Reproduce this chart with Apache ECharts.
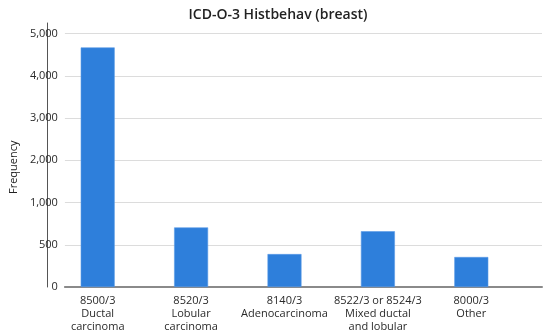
<!DOCTYPE html>
<html>
<head>
<meta charset="utf-8">
<script src="https://cdn.jsdelivr.net/npm/echarts@6/dist/echarts.min.js"></script>
<style>html,body{margin:0;padding:0;background:#fff;}#c{width:550px;height:335px;}</style>
</head>
<body>
<div id="c"></div>
<script>
var categories = ['8500/3\nDuctal\ncarcinoma', '8520/3\nLobular\ncarcinoma', '8140/3\nAdenocarcinoma', '8522/3 or 8524/3\nMixed ductal\nand lobular', '8000/3\nOther'];
var frequencies = [4670, 705, 390, 660, 355];
var tickLabels = [0, 500, 1000, 2000, 3000, 4000, 5000];

// Broken scale: 0-1000 in steps of 500, then steps of 1000 (equal spacing per tick)
function toAxis(v) {
  for (var i = 1; i < tickLabels.length; i++) {
    if (v <= tickLabels[i]) {
      return (i - 1) + (v - tickLabels[i - 1]) / (tickLabels[i] - tickLabels[i - 1]);
    }
  }
  return tickLabels.length - 1;
}
function fmt(n) { return n.toLocaleString('en-US'); }

var FONT = '"Open Sans", "Noto Sans", sans-serif';
var chart = echarts.init(document.getElementById('c'), null, {renderer: 'canvas'});
var top0 = 33.5, bottom0 = 48;
chart.setOption({
  animation: false,
  backgroundColor: '#ffffff',
  title: {
    text: 'ICD-O-3 Histbehav (breast)',
    left: 273, top: 3, textAlign: 'center',
    textStyle: {fontFamily: FONT, fontSize: 14, fontWeight: 600, color: '#222'}
  },
  grid: [
    {left: 47, right: 8, top: top0, bottom: bottom0},
    {left: 51, right: 32, top: top0, bottom: bottom0},
    {left: 47, right: 8, top: 23, bottom: bottom0}
  ],
  xAxis: [
    {gridIndex: 0, type: 'category', data: [''], axisLine: {show: true, lineStyle: {color: '#8a8a8a', width: 2}},
     axisTick: {show: false}, axisLabel: {show: false}, splitLine: {show: false}},
    {gridIndex: 1, type: 'category', data: categories, axisLine: {show: false}, axisTick: {show: false},
     axisLabel: {interval: 0, margin: 7, fontFamily: FONT, fontSize: 11, lineHeight: 13, color: '#2a2a2a'}},
    {gridIndex: 2, type: 'category', data: [''], show: false}
  ],
  yAxis: [
    {gridIndex: 0, type: 'value', min: 0, max: tickLabels.length - 1, interval: 1,
     axisLine: {show: false}, axisTick: {show: false},
     splitLine: {show: true, lineStyle: {color: '#dcdcdc', width: 1}},
     axisLabel: {margin: 7, fontFamily: FONT, fontSize: 11, color: '#2a2a2a',
       formatter: function (v) { return fmt(tickLabels[Math.round(v)]); }},
     name: 'Frequency', nameLocation: 'middle', nameGap: 35, nameRotate: 90,
     nameTextStyle: {fontFamily: FONT, fontSize: 11, color: '#222', padding: [0, 0, 0, -14]}},
    {gridIndex: 1, type: 'value', min: 0, max: tickLabels.length - 1, interval: 1, show: false},
    {gridIndex: 2, type: 'value', min: 0, max: 1, show: true,
     axisLine: {show: true, lineStyle: {color: '#555', width: 1}}, axisTick: {show: false},
     axisLabel: {show: false}, splitLine: {show: false}}
  ],
  series: [{
    type: 'bar', xAxisIndex: 1, yAxisIndex: 1,
    data: frequencies.map(toAxis),
    barWidth: 34,
    itemStyle: {color: '#2e7fdb', borderColor: '#5a9be6', borderWidth: 0.6}
  }]
});
</script>
</body>
</html>
